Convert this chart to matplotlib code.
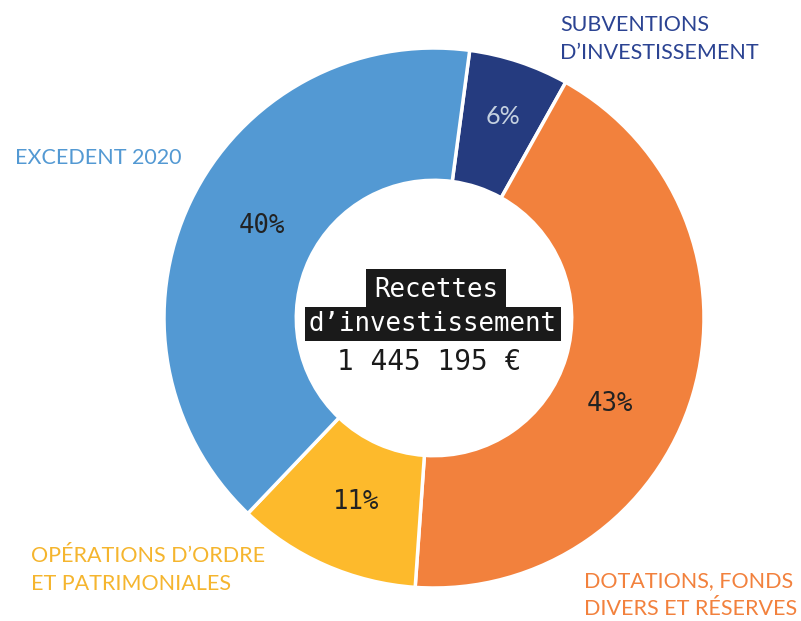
import matplotlib
matplotlib.use("Agg")
import matplotlib.pyplot as plt

categories = ["SUBVENTIONS\nD\u2019INVESTISSEMENT", "DOTATIONS, FONDS\nDIVERS ET R\u00c9SERVES",
              "OP\u00c9RATIONS D\u2019ORDRE\nET PATRIMONIALES", "EXCEDENT 2020"]
values = [6, 43, 11, 40]
pct_labels = ["6%", "43%", "11%", "40%"]
colors = ["#253B7F", "#F2813D", "#FDBA2C", "#5399D3"]
label_colors = ["#2B4392", "#F2813D", "#F5B52E", "#5399D3"]
title_lines = ["Recettes", "d\u2019investissement"]
total_text = "1 445 195 \u20ac"

W, H = 801, 621
fig = plt.figure(figsize=(W / 100, H / 100), dpi=100)
ax = fig.add_axes([0, 0, 1, 1])

cx, cy, R = 434, H - 318, 270
wedges, _ = ax.pie(values, colors=colors, startangle=82.4, counterclock=False,
                   center=(cx, cy), radius=R,
                   wedgeprops=dict(width=R * 0.49, edgecolor="white", linewidth=2.5))
ax.set_xlim(0, W)
ax.set_ylim(0, H)
ax.set_aspect("equal")
ax.axis("off")

# percentage labels
pct_pos = [(503, 116), (610, 404), (356, 502), (262, 226)]
pct_colors = ["#C5D1E0", "#222222", "#222222", "#222222"]
pct_fonts = [["Lato", "DejaVu Sans"], ["DejaVu Sans Mono"], ["DejaVu Sans Mono"], ["DejaVu Sans Mono"]]
pct_sizes = [18, 18.5, 18.5, 18.5]
for (px, py), t, c, f, s in zip(pct_pos, pct_labels, pct_colors, pct_fonts, pct_sizes):
    ax.text(px, H - py, t, ha="center", va="center", fontsize=s, color=c, family=f)

# category labels
cat_pos = [(560, 39), (584, 595), (31, 570), (15, 158)]
for (px, py), t, c in zip(cat_pos, categories, label_colors):
    ax.text(px, H - py, t, ha="left", va="center", fontsize=15.5, color=c,
            family=["Lato", "DejaVu Sans"], linespacing=1.55)

# center text
ax.text(cx + 2, H - 290, title_lines[0], ha="center", va="center", fontsize=18.5,
        color="white", family="DejaVu Sans Mono",
        bbox=dict(boxstyle="square,pad=0.3", facecolor="#1A1A1A", edgecolor="none"))
ax.text(cx - 1, H - 324, title_lines[1], ha="center", va="center", fontsize=18.5,
        color="white", family="DejaVu Sans Mono",
        bbox=dict(boxstyle="square,pad=0.15", facecolor="#1A1A1A", edgecolor="none"))
ax.text(cx - 5, H - 362, total_text, ha="center", va="center", fontsize=20,
        color="#1A1A1A", family="DejaVu Sans Mono")

fig.savefig("out.png", dpi=100)
